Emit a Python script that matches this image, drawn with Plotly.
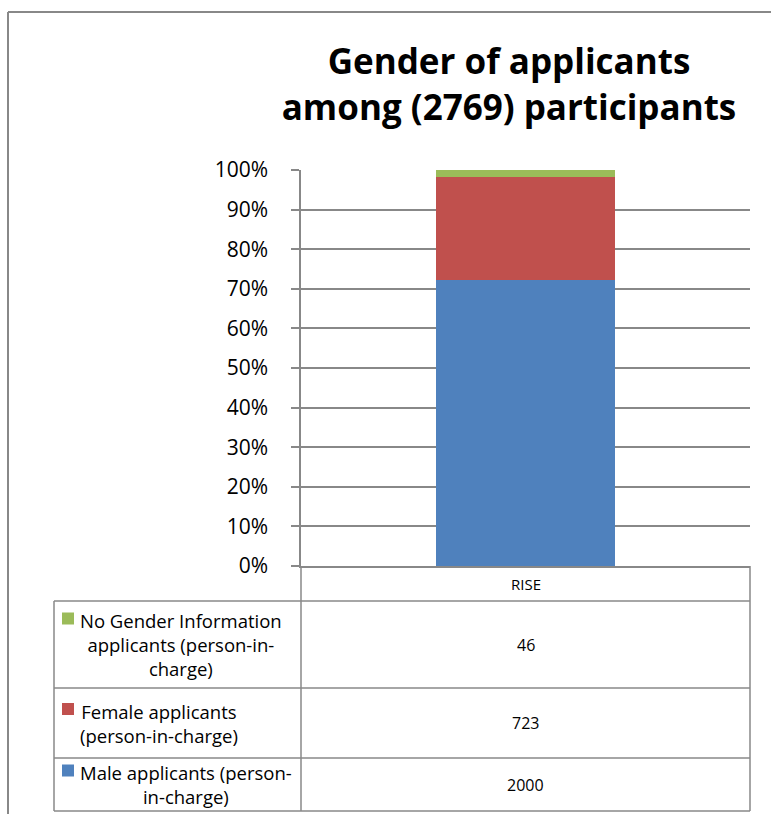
import plotly.graph_objects as go

# data
category = ["RISE"]
series_names = [
    "Male applicants (person-<br>in-charge)",
    "Female applicants<br>(person-in-charge)",
    "No Gender Information<br>applicants (person-in-<br>charge)",
]
series_values = [2000, 723, 46]
series_colors = ["#4F81BD", "#C0504D", "#9BBB59"]
title_text = "Gender of applicants<br>among (2769) participants"

W, H = 771, 814
GRID = "#888888"
FONT = "Open Sans"


def px(x):
    return x / W


def py(y):
    return 1 - y / H


fig = go.Figure()
for name, val, col in zip(series_names, series_values, series_colors):
    fig.add_trace(go.Bar(x=category, y=[val], name=name, marker_color=col,
                         marker_line_width=0, hoverinfo="skip"))

fig.update_layout(
    width=W, height=H, margin=dict(l=0, r=0, t=0, b=0, autoexpand=False),
    barmode="stack", barnorm="percent", bargap=0.6, showlegend=False,
    plot_bgcolor="white", paper_bgcolor="white",
    font=dict(family=FONT, color="black"),
    title=dict(text=title_text, x=px(509), xanchor="center", y=py(74), yanchor="middle",
               font=dict(family=FONT, size=35, color="black", weight="bold")),
    xaxis=dict(domain=[px(301), px(750)], showticklabels=False, showgrid=False, automargin=False,
               showline=True, linecolor=GRID, linewidth=1.5, fixedrange=True),
    yaxis=dict(domain=[py(566), py(170)], range=[0, 100], dtick=10, ticksuffix="%",
               automargin=False, fixedrange=True,
               showgrid=True, gridcolor=GRID, gridwidth=1.5, zeroline=False,
               showline=True, linecolor=GRID, linewidth=1.5,
               ticks="outside", ticklen=8, tickcolor=GRID, tickwidth=1.5,
               ticklabelstandoff=19, tickfont=dict(family=FONT, size=21, color="black")),
)

line = dict(color=GRID, width=1.5)
shapes = [
    # outer chart frame (cut off at right and bottom)
    dict(type="line", xref="paper", yref="paper", x0=px(8), x1=px(8), y0=py(12), y1=py(830),
         line=dict(color=GRID, width=2)),
    dict(type="line", xref="paper", yref="paper", x0=px(8), x1=px(790), y0=py(12), y1=py(12),
         line=dict(color=GRID, width=2)),
    # data table grid
    dict(type="line", xref="paper", yref="paper", x0=px(301), x1=px(301), y0=py(566), y1=py(811), line=line),
    dict(type="line", xref="paper", yref="paper", x0=px(750), x1=px(750), y0=py(566), y1=py(811), line=line),
    dict(type="line", xref="paper", yref="paper", x0=px(54), x1=px(54), y0=py(601), y1=py(811), line=line),
]
row_edges = [601, 688, 758, 811]
for y in row_edges:
    shapes.append(dict(type="line", xref="paper", yref="paper", x0=px(54), x1=px(750),
                       y0=py(y), y1=py(y), line=line))

annotations = [
    dict(text=category[0], x=px(525.5), y=py(584), xref="paper", yref="paper",
         xanchor="center", yanchor="middle",
         showarrow=False, font=dict(family=FONT, size=15, color="black")),
]

# table rows: top row is the top of the stack
rows = list(zip(series_names, series_values, series_colors))[::-1]
LH = 24
for i, (name, val, col) in enumerate(rows):
    top, bot = row_edges[i], row_edges[i + 1]
    cy = (top + bot) / 2
    nlines = name.count("<br>") + 1
    annotations.append(dict(text=name, x=px(78), y=py(cy), xref="paper", yref="paper",
                            xanchor="left", yanchor="middle", align="center", showarrow=False,
                            font=dict(family=FONT, size=18.5, color="black")))
    annotations.append(dict(text=str(val), x=px(525.5), y=py(cy), xref="paper", yref="paper",
                            xanchor="center", yanchor="middle", showarrow=False,
                            font=dict(family=FONT, size=16, color="black")))
    sy = cy - (nlines - 1) / 2 * LH - 2
    shapes.append(dict(type="rect", xref="paper", yref="paper", x0=px(62), x1=px(74),
                       y0=py(sy - 6), y1=py(sy + 6), fillcolor=col, line_width=0))

fig.update_layout(shapes=shapes, annotations=annotations)
fig.write_html("out.html", config={"displayModeBar": False},
               post_script="document.body.style.margin='0';")
